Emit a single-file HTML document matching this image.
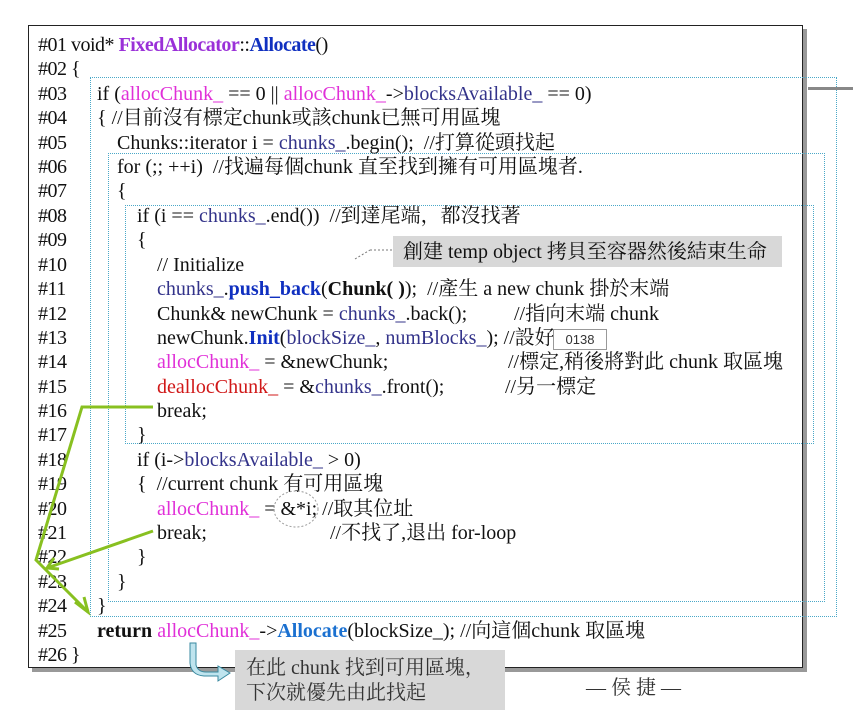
<!DOCTYPE html>
<html><head><meta charset="utf-8"><style>
body{margin:0;width:853px;height:724px;background:#fff;position:relative;overflow:hidden;font-family:"Liberation Serif","Noto Serif CJK SC","Noto Sans CJK TC",serif;}
.box{position:absolute;left:28px;top:25px;width:773px;height:641px;border:1.5px solid #222;box-shadow:4px 4px 0 #999;background:#fff;}
.l{position:absolute;font-size:20px;white-space:pre;line-height:22px;color:#111;}
.n{left:38px;letter-spacing:-0.5px}
.m{color:#e030d8}.b{color:#33338a}.r{color:#d01818}.p{color:#9a30d8;font-weight:bold}.bb{color:#1030c0;font-weight:bold}.k{font-weight:bold}.c{color:#1a70d0;font-weight:bold}
.d{position:absolute;border:1px dotted #4aa8c8;}
</style></head><body>
<div class="box"></div>
<div class="d" style="left:90px;top:77px;width:745px;height:538px"></div>
<div class="d" style="left:108px;top:153px;width:715px;height:447px"></div>
<div class="d" style="left:125px;top:205px;width:687px;height:237px"></div>
<div style="position:absolute;left:808px;top:87px;width:45px;height:3px;background:#888"></div>
<div style="position:absolute;left:393px;top:236px;width:389px;height:31px;background:#d8d8d8"></div>
<div class="l n" style="top:34px">#01 void* <span class="p">FixedAllocator</span>::<span class="bb">Allocate</span>()</div>
<div class="l n" style="top:58px">#02 {</div>
<div class="l n" style="top:83px">#03</div><div class="l" style="left:97px;top:83px">if (<span class="m">allocChunk_</span> == 0 || <span class="m">allocChunk_</span>-><span class="b">blocksAvailable_</span> == 0)</div>
<div class="l n" style="top:107px">#04</div><div class="l" style="left:97px;top:107px">{ //目前沒有標定chunk或該chunk已無可用區塊</div>
<div class="l n" style="top:132px">#05</div><div class="l" style="left:117px;top:132px">Chunks::iterator i = <span class="b">chunks_</span>.begin();  //打算從頭找起</div>
<div class="l n" style="top:156px">#06</div><div class="l" style="left:117px;top:156px">for (;; ++i)  //找遍每個chunk 直至找到擁有可用區塊者.</div>
<div class="l n" style="top:180px">#07</div><div class="l" style="left:117px;top:180px">{</div>
<div class="l n" style="top:205px">#08</div><div class="l" style="left:137px;top:205px">if (i == <span class="b">chunks_</span>.end())  //到達尾端，都沒找著</div>
<div class="l n" style="top:229px">#09</div><div class="l" style="left:137px;top:229px">{</div>
<div class="l" style="left:403px;top:241px">創建 temp object 拷貝至容器然後結束生命</div>
<div class="l n" style="top:254px">#10</div><div class="l" style="left:157px;top:254px">// Initialize</div>
<div class="l n" style="top:278px">#11</div><div class="l" style="left:157px;top:278px"><span class="b">chunks_</span>.<span class="bb">push_back</span>(<span class="k">Chunk( )</span>);  //產生 a new chunk 掛於末端</div>
<div class="l n" style="top:303px">#12</div><div class="l" style="left:157px;top:303px">Chunk&amp; newChunk = <span class="b">chunks_</span>.back();</div><div class="l" style="left:514px;top:303px">//指向末端 chunk</div>
<div class="l n" style="top:327px">#13</div><div class="l" style="left:157px;top:327px">newChunk.<span class="bb">Init</span>(<span class="b">blockSize_</span>, <span class="b">numBlocks_</span>); //設好</div>
<div style="position:absolute;left:553px;top:329px;width:52px;height:19px;border:1px solid #999;background:#fff;font-family:'Liberation Sans',sans-serif;font-size:13px;line-height:19px;text-align:center;color:#333">0138</div>
<div class="l n" style="top:351px">#14</div><div class="l" style="left:157px;top:351px"><span class="m">allocChunk_</span> = &amp;newChunk;</div><div class="l" style="left:508px;top:351px">//標定,稍後將對此 chunk 取區塊</div>
<div class="l n" style="top:376px">#15</div><div class="l" style="left:157px;top:376px"><span class="r">deallocChunk_</span> = &amp;<span class="b">chunks_</span>.front();</div><div class="l" style="left:505px;top:376px">//另一標定</div>
<div class="l n" style="top:400px">#16</div><div class="l" style="left:157px;top:400px">break;</div>
<div class="l n" style="top:424px">#17</div><div class="l" style="left:137px;top:424px">}</div>
<div class="l n" style="top:449px">#18</div><div class="l" style="left:137px;top:449px">if (i-><span class="b">blocksAvailable_</span> &gt; 0)</div>
<div class="l n" style="top:473px">#19</div><div class="l" style="left:137px;top:473px">{  //current chunk 有可用區塊</div>
<div class="l n" style="top:498px">#20</div><div class="l" style="left:157px;top:498px"><span class="m">allocChunk_</span> = &amp;*i; //取其位址</div>
<div class="l n" style="top:522px">#21</div><div class="l" style="left:157px;top:522px">break;</div><div class="l" style="left:330px;top:522px">//不找了,退出 for-loop</div>
<div class="l n" style="top:546px">#22</div><div class="l" style="left:137px;top:546px">}</div>
<div class="l n" style="top:571px">#23</div><div class="l" style="left:117px;top:571px">}</div>
<div class="l n" style="top:595px">#24</div><div class="l" style="left:97px;top:595px">}</div>
<div class="l n" style="top:620px">#25</div><div class="l" style="left:97px;top:620px"><span class="k">return</span> <span class="m">allocChunk_</span>-><span class="c">Allocate</span>(blockSize_); //向這個chunk 取區塊</div>
<div class="l n" style="top:644px">#26 }</div>
<div style="position:absolute;left:235px;top:650px;width:270px;height:60px;background:#d8d8d8"></div>
<div class="l" style="left:246px;top:657px;color:#333">在此 chunk 找到可用區塊，</div>
<div class="l" style="left:246px;top:682px;color:#333">下次就優先由此找起</div>
<div class="l" style="left:586px;top:677px;color:#333">— 侯 捷 —</div>
<svg width="853" height="724" style="position:absolute;left:0;top:0">
<line x1="355" y1="259" x2="370" y2="250" stroke="#777" stroke-dasharray="2,2"/>
<line x1="370" y1="250" x2="393" y2="250" stroke="#777" stroke-dasharray="2,2"/>
<ellipse cx="296" cy="509" rx="22" ry="18" fill="none" stroke="#999" stroke-dasharray="2,2"/>
<g stroke="#88c020" stroke-width="3" fill="none">
<polyline points="153,407 82,407 36,560 88,612"/>
<polyline points="75,602 88,612 84,597"/>
<line x1="153" y1="531" x2="47" y2="568"/>
<polyline points="54,558 47,568 59,569"/>
</g>
<path d="M196,643 L196,665 Q198,672 206,672 L218,672 L218,666 L230,673 L218,681 L218,676 L204,676 Q191,675 190,663 L190,643 Z" fill="#bfe4ee" stroke="#3a8aa0" stroke-width="1"/>
</svg>
</body></html>
